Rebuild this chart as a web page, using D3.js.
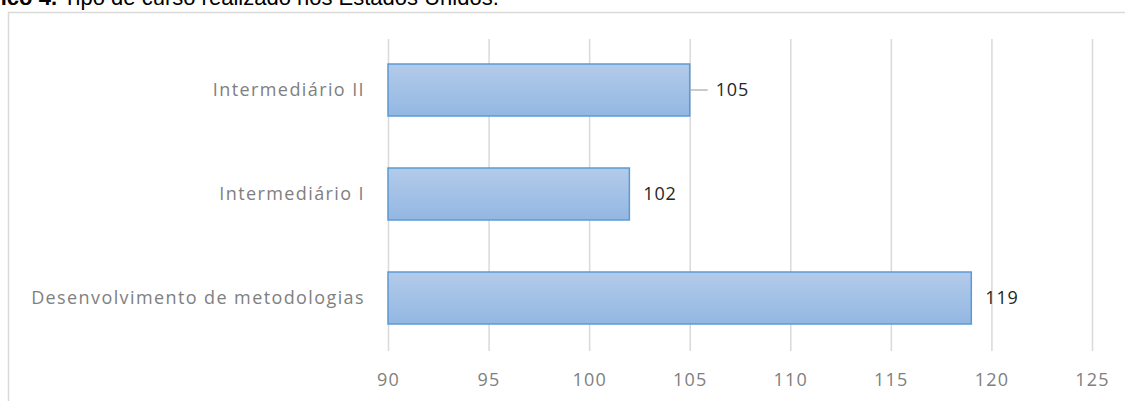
<!DOCTYPE html>
<html>
<head>
<meta charset="utf-8">
<script src="https://cdn.jsdelivr.net/npm/d3@7"></script>
<style>
    body { margin: 0; background: #fff; }
    svg { display: block; }
</style>
</head>
<body>
<div class="bar-chart-container"></div>
<script>
// Data
const categories = ['Intermediário II', 'Intermediário I', 'Desenvolvimento de metodologias'];
const values = [105, 102, 119];
const xTicks = [90, 95, 100, 105, 110, 115, 120, 125];

const barData = categories.map((c, i) => ({tipo: c, total: values[i]}));

// Base
const W = 1125, H = 401;
const svg = d3.select('.bar-chart-container')
    .append('svg')
    .attr('width', W)
    .attr('height', H);

const defs = svg.append('defs');
const grad = defs.append('linearGradient')
    .attr('id', 'barGrad')
    .attr('x1', 0).attr('y1', 0)
    .attr('x2', 0).attr('y2', 1);
grad.append('stop').attr('offset', '0%').attr('stop-color', '#b3cbea');
grad.append('stop').attr('offset', '100%').attr('stop-color', '#93b7e2');

// Caption (cut off at top edge, as in the source page)
svg.append('text')
    .attr('x', 57).attr('y', 5)
    .attr('text-anchor', 'end')
    .style('font-family', '"Liberation Sans", Arial, sans-serif')
    .style('font-size', '22px')
    .style('font-weight', 'bold')
    .text('Gráfico 4.');

svg.append('text')
    .attr('x', 63).attr('y', 5)
    .style('font-family', '"Liberation Sans", Arial, sans-serif')
    .style('font-size', '22px')
    .text('Tipo de curso realizado nos Estados Unidos.');

// Chart frame
svg.append('path')
    .attr('d', `M8.5,${H} V12.5 H${W}`)
    .attr('fill', 'none')
    .attr('stroke', '#d9d9d9')
    .attr('stroke-width', 1.5);

// Scales
const xScale = d3.scaleLinear()
    .domain([90, 125])
    .range([388, 1092]);

const yScale = d3.scaleBand()
    .domain(categories)
    .range([38, 350])
    .paddingInner(0.5)
    .paddingOuter(0.25);

// Grid
const xAxis = d3.axisBottom(xScale)
    .tickValues(xTicks)
    .tickSizeInner(-(350 - 38))
    .tickSizeOuter(0)
    .tickPadding(22);

const xAxisDraw = svg.append('g')
    .attr('class', 'x axis')
    .attr('transform', 'translate(0, 351)')
    .call(xAxis);

xAxisDraw.select('.domain').remove();
xAxisDraw.selectAll('line')
    .attr('stroke', '#d9d9d9')
    .attr('stroke-width', 1.5);
xAxisDraw.selectAll('text')
    .attr('fill', '#808080')
    .style('font-family', '"Open Sans", sans-serif')
    .style('font-size', '18px')
    .style('letter-spacing', '1.2px');

// Bars
svg.selectAll('.bar')
    .data(barData)
    .enter()
    .append('rect')
    .attr('class', 'bar')
    .attr('x', xScale(90))
    .attr('y', d => yScale(d.tipo))
    .attr('width', d => xScale(d.total) - xScale(90))
    .attr('height', yScale.bandwidth())
    .attr('fill', 'url(#barGrad)')
    .attr('stroke', '#5b9bd5')
    .attr('stroke-width', 1.5);

// Category labels
const yAxis = d3.axisLeft(yScale).tickSize(0).tickPadding(23);
const yAxisDraw = svg.append('g')
    .attr('class', 'y axis')
    .attr('transform', `translate(${xScale(90)}, 0)`)
    .call(yAxis);

yAxisDraw.select('.domain').remove();
yAxisDraw.selectAll('text')
    .attr('fill', '#808080')
    .style('font-family', '"Open Sans", sans-serif')
    .style('font-size', '18px')
    .style('letter-spacing', '1.4px');

// Value labels (105 has a short leader line)
svg.selectAll('.leader')
    .data(barData.filter(d => d.total === 105))
    .enter()
    .append('line')
    .attr('class', 'leader')
    .attr('x1', d => xScale(d.total))
    .attr('x2', d => xScale(d.total) + 18)
    .attr('y1', d => yScale(d.tipo) + yScale.bandwidth() / 2)
    .attr('y2', d => yScale(d.tipo) + yScale.bandwidth() / 2)
    .attr('stroke', '#a6a6a6')
    .attr('stroke-width', 1.2);

svg.selectAll('.value')
    .data(barData)
    .enter()
    .append('text')
    .attr('class', 'value')
    .attr('x', d => xScale(d.total) + (d.total === 105 ? 26 : 14))
    .attr('y', d => yScale(d.tipo) + yScale.bandwidth() / 2)
    .attr('dy', '0.35em')
    .attr('fill', '#262626')
    .style('font-family', '"Open Sans", sans-serif')
    .style('font-size', '18px')
    .style('letter-spacing', '0.8px')
    .text(d => d.total);
</script>
</body>
</html>
